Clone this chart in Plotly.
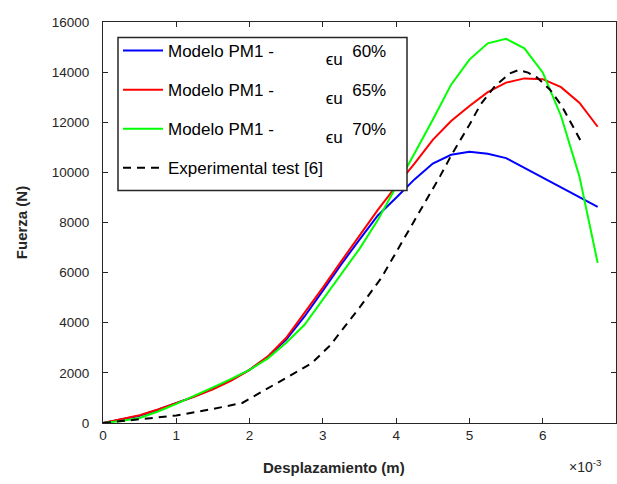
import plotly.graph_objects as go

# x in units of 1e-3 m
x_model = [0, 0.25, 0.5, 0.75, 1.0, 1.25, 1.5, 1.75, 2.0, 2.25, 2.5, 2.75, 3.0, 3.25,
           3.5, 3.75, 4.0, 4.25, 4.5, 4.75, 5.0, 5.25, 5.5, 5.75, 6.0, 6.25, 6.5, 6.75]

f_60 = [0, 130, 290, 530, 790, 1060, 1370, 1720, 2120, 2640, 3330, 4250, 5280, 6330,
        7320, 8280, 8990, 9720, 10350, 10700, 10820, 10740, 10570, 10180, 9800, 9420, 9030, 8620]
f_65 = [0, 150, 310, 540, 790, 1050, 1340, 1690, 2120, 2660, 3400, 4380, 5400, 6450,
        7480, 8500, 9450, 10350, 11300, 12050, 12650, 13200, 13580, 13750, 13720, 13400, 12780, 11820]
f_70 = [0, 80, 200, 460, 760, 1080, 1420, 1760, 2120, 2580, 3200, 3920, 4920, 5920,
        6950, 8100, 9400, 10750, 12100, 13500, 14500, 15150, 15330, 14950, 13990, 12250, 9850, 6390]

x_exp = [0, 0.5, 1.0, 1.5, 1.9, 2.2, 2.5, 2.85, 3.1, 3.5, 3.8, 4.1, 4.4, 4.6, 4.76,
         5.0, 5.15, 5.35, 5.55, 5.67, 5.8, 5.92, 6.1, 6.26, 6.4, 6.55]
f_exp = [0, 160, 300, 560, 800, 1300, 1790, 2390, 3100, 4600, 5800, 7300, 8800, 9850, 10720,
         11900, 12700, 13450, 13950, 14080, 13980, 13790, 13300, 12650, 11900, 11080]

NB = "\u00a0"
def model_name(p):
    return ("Modelo PM1 -" + NB * 11 +
            "<span style='font-size:36px'><sub><span style='font-size:17px'>ϵu</span></sub></span>"
            + NB * 2 + f"{p}")

names = [model_name("60%"), model_name("65%"), model_name("70%"), "Experimental test [6]"]
colors = ["#0000FF", "#FF0000", "#00FF00", "#000000"]

fig = go.Figure()
for i, (xs, ys) in enumerate([(x_model, f_60), (x_model, f_65), (x_model, f_70), (x_exp, f_exp)]):
    fig.add_trace(go.Scatter(
        x=xs, y=ys, mode="lines", name=names[i], legendgroup=f"g{i}",
        line=dict(color=colors[i], width=2, dash=("8px,6px" if i == 3 else "solid")),
    ))

axis_common = dict(
    showline=True, linecolor="#262626", linewidth=1, mirror="ticks",
    ticks="inside", ticklen=5, tickcolor="#262626", showgrid=False, zeroline=False,
    tickfont=dict(family="Liberation Sans, Arial", size=13.5, color="#262626"),
)

fig.update_layout(
    width=617, height=484,
    margin=dict(l=103, r=1, t=22, b=61),
    plot_bgcolor="white", paper_bgcolor="white",
    xaxis=dict(range=[0, 7], tickvals=[0, 1, 2, 3, 4, 5, 6, 7], **axis_common),
    yaxis=dict(range=[0, 16000], dtick=2000, tickformat="d", ticklabelstandoff=10,
               title=dict(text="<b>Fuerza (N)</b>", standoff=20,
                          font=dict(family="Liberation Sans, Arial", size=15, color="#262626")),
               **axis_common),
    legend=dict(
        x=(118 - 103) / 513, y=(423 - 33) / 401, xanchor="left", yanchor="top",
        bgcolor="rgba(0,0,0,0)", borderwidth=0, valign="bottom",
        font=dict(family="Liberation Sans, Arial", size=17, color="#000000"),
        tracegroupgap=14, itemwidth=40,
    ),
    showlegend=True,
    shapes=[dict(type="rect", xref="paper", yref="paper",
                 x0=(118 - 103) / 513, x1=(407 - 103) / 513,
                 y0=(423 - 190.5) / 401, y1=(423 - 37.5) / 401,
                 fillcolor="white", line=dict(color="#262626", width=1.5), layer="above")],
    annotations=[
        dict(text="<b>Desplazamiento (m)</b>", xref="paper", yref="paper",
             x=(334 - 103) / 513, y=(423 - 467) / 401, xanchor="center", yanchor="middle",
             showarrow=False, font=dict(family="Liberation Sans, Arial", size=15, color="#262626")),
        dict(text="×10<sup>-3</sup>", xref="paper", yref="paper",
             x=(567 - 103) / 513, y=(423 - 466) / 401, xanchor="left", yanchor="middle",
             showarrow=False, font=dict(family="Liberation Sans, Arial", size=14, color="#262626")),
    ],
)

fig.write_html("out.html")
